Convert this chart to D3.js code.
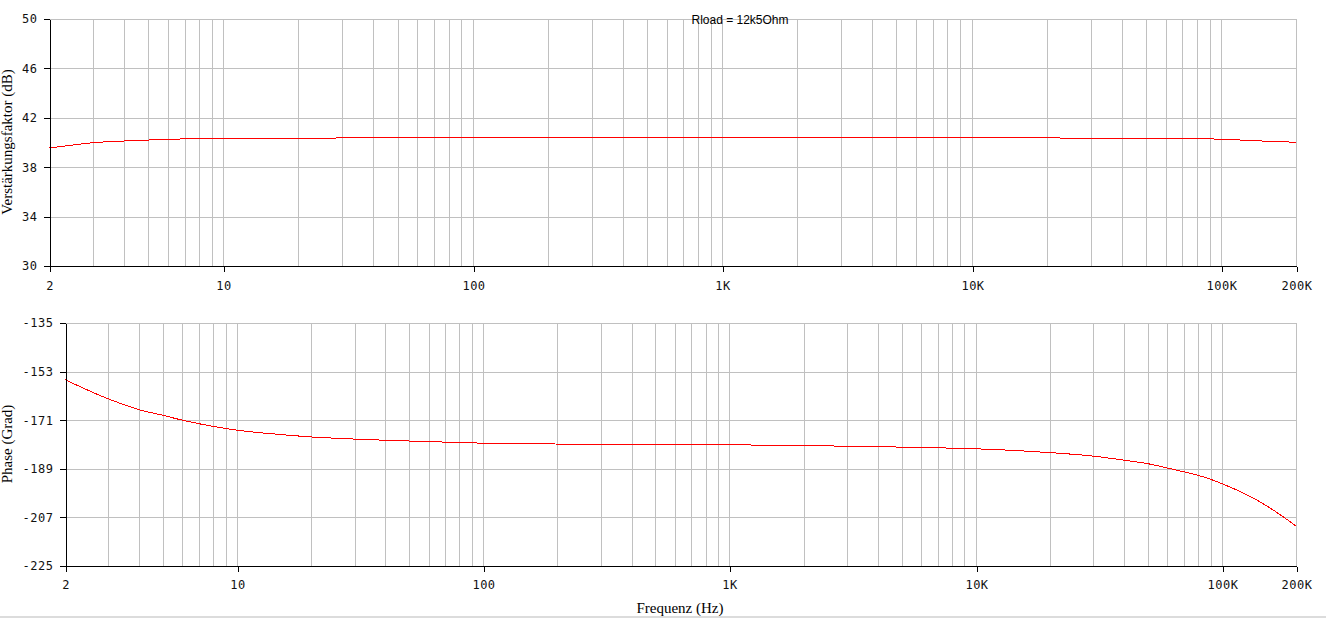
<!DOCTYPE html>
<html>
<head>
<meta charset="utf-8">
<script src="https://cdn.jsdelivr.net/npm/d3@7/dist/d3.min.js"></script>
<style>
  html, body { margin: 0; padding: 0; background: #fff; }
  svg { display: block; }
</style>
</head>
<body>
<svg id="chart" width="1326" height="618"></svg>
<script>
// ---- data ----
const titleText = "Rload = 12k5Ohm";
const xTitle = "Frequenz (Hz)";
const gainTitle = "Verstärkungsfaktor (dB)";
const phaseTitle = "Phase (Grad)";

const xTickValues = [2, 10, 100, 1000, 10000, 100000, 200000];
const xTickLabels = ["2", "10", "100", "1K", "10K", "100K", "200K"];

const gainTickValues = [30, 34, 38, 42, 46, 50];
const gainTickLabels = ["30", "34", "38", "42", "46", "50"];
const phaseTickValues = [-225, -207, -189, -171, -153, -135];
const phaseTickLabels = ["-225", "-207", "-189", "-171", "-153", "-135"];

const gainFreq = [2, 2.5, 3, 4, 5, 6, 8, 10, 15, 20, 50, 100, 1000, 10000, 30000, 50000, 70000, 100000, 120000, 150000, 200000];
const gainDb   = [39.55, 39.8, 39.98, 40.12, 40.2, 40.26, 40.31, 40.33, 40.35, 40.36, 40.37, 40.37, 40.37, 40.37, 40.36, 40.34, 40.31, 40.27, 40.2, 40.11, 40.02];

const phaseFreq = [2, 3, 4, 5, 6, 7, 8, 10, 15, 20, 30, 45, 60, 80, 150, 300, 1000, 2000, 4000, 6000, 10000, 15000, 20000, 30000, 40000, 50000, 60000, 70000, 80000, 90000, 100000, 130000, 150000, 175000, 200000];
const phaseDeg  = [-156.0, -163.1, -167.1, -169.2, -171.0, -172.3, -173.3, -174.7, -176.3, -177.2, -178.0, -178.6, -178.9, -179.3, -179.7, -180.0, -180.1, -180.4, -180.8, -181.1, -181.6, -182.3, -183.0, -184.3, -185.8, -187.1, -188.7, -190.1, -191.4, -192.9, -194.5, -199.2, -202.4, -206.4, -210.2];

// ---- drawing ----
const svg = d3.select("#chart");
const tickFont = "'DejaVu Sans Mono', monospace";
const serif = "'Liberation Serif', 'Times New Roman', serif";

function gridFreqs(lo, hi) {
  const out = [];
  for (let d = 1; d <= hi; d *= 10) {
    for (let m = 1; m <= 9; m++) {
      const f = m * d;
      if (f > lo && f <= hi) out.push(f);
    }
  }
  return out;
}

function panel(cfg) {
  const x = d3.scaleLog().domain([2, 200000]).range([cfg.left, cfg.right]);
  const y = d3.scaleLinear().domain(cfg.yDomain).range([cfg.bottom, cfg.top]);
  const g = svg.append("g");

  // vertical grid
  g.append("g").selectAll("line").data(gridFreqs(2, 200000)).join("line")
    .attr("x1", d => Math.round(x(d)) + 0.5).attr("x2", d => Math.round(x(d)) + 0.5)
    .attr("y1", cfg.top).attr("y2", cfg.bottom)
    .attr("stroke", "#c0c0c0").attr("stroke-width", 1).attr("shape-rendering", "crispEdges");

  // horizontal grid
  g.append("g").selectAll("line").data(cfg.yTicks.filter(v => v !== cfg.yDomain[0])).join("line")
    .attr("x1", cfg.left).attr("x2", cfg.right + 1)
    .attr("y1", d => Math.round(y(d)) + 0.5).attr("y2", d => Math.round(y(d)) + 0.5)
    .attr("stroke", "#c0c0c0").attr("stroke-width", 1).attr("shape-rendering", "crispEdges");

  // curve
  const line = d3.line()
    .x((d, i) => x(cfg.xs[i]))
    .y(d => y(d))
    .curve(d3.curveMonotoneX);
  g.append("path").datum(cfg.ys)
    .attr("d", line)
    .attr("fill", "none").attr("stroke", "#ff0000").attr("stroke-width", 1)
    .attr("shape-rendering", "crispEdges");

  // x axis
  const xa = d3.axisBottom(x).tickValues(xTickValues)
    .tickFormat((d, i) => xTickLabels[i]).tickSize(5).tickSizeOuter(0).tickPadding(cfg.xPad);
  const gx = g.append("g").attr("transform", `translate(0.5,${Math.round(y(cfg.yDomain[0])) + 0.5})`).call(xa);
  gx.select(".domain").attr("stroke", "#000").attr("d", `M${cfg.left - 0.5},0H${cfg.right + 0.5}`);
  gx.selectAll(".tick line").attr("stroke", "#000").attr("shape-rendering", "crispEdges")
    .attr("transform", d => `translate(${Math.round(x(d)) - x(d)},0)`);
  gx.selectAll("text").attr("font-family", tickFont).attr("font-size", 12).attr("fill", "#111")
    .attr("letter-spacing", "0.5px")
    .attr("transform", d => `translate(${Math.round(x(d)) - x(d)},0)`);

  // y axis
  const ya = d3.axisLeft(y).tickValues(cfg.yTicks)
    .tickFormat((d, i) => cfg.yLabels[i]).tickSize(6).tickSizeOuter(0).tickPadding(6);
  const gy = g.append("g").attr("transform", `translate(${cfg.left + 0.5},0)`).call(ya);
  gy.select(".domain").attr("stroke", "#000").attr("shape-rendering", "crispEdges");
  gy.selectAll(".tick line").attr("stroke", "#000").attr("shape-rendering", "crispEdges");
  gy.selectAll("text").attr("font-family", tickFont).attr("font-size", 12).attr("fill", "#111")
    .attr("letter-spacing", "0.5px");

  // y title
  g.append("text")
    .attr("transform", `translate(12,${cfg.titleY}) rotate(-90)`)
    .attr("text-anchor", "middle")
    .attr("font-family", serif).attr("font-size", 15).attr("fill", "#000")
    .text(cfg.title);
}

panel({
  left: 49, right: 1296, top: 19, bottom: 266,
  yDomain: [30, 50], yTicks: gainTickValues, yLabels: gainTickLabels,
  xs: gainFreq, ys: gainDb, xPad: 10, title: gainTitle, titleY: 142
});

panel({
  left: 65, right: 1296, top: 323, bottom: 566,
  yDomain: [-225, -135], yTicks: phaseTickValues, yLabels: phaseTickLabels,
  xs: phaseFreq, ys: phaseDeg, xPad: 9, title: phaseTitle, titleY: 444
});

// chart title
svg.append("text")
  .attr("x", 740).attr("y", 24).attr("text-anchor", "middle")
  .attr("font-family", "'Liberation Sans', Arial, sans-serif").attr("font-size", 12).attr("fill", "#000")
  .text(titleText);

// x title
svg.append("text")
  .attr("x", 680).attr("y", 613).attr("text-anchor", "middle")
  .attr("font-family", serif).attr("font-size", 15).attr("fill", "#000")
  .text(xTitle);

// bottom window edge
svg.append("rect").attr("x", 0).attr("y", 616).attr("width", 1326).attr("height", 2).attr("fill", "#dcdcdc");
</script>
</body>
</html>
